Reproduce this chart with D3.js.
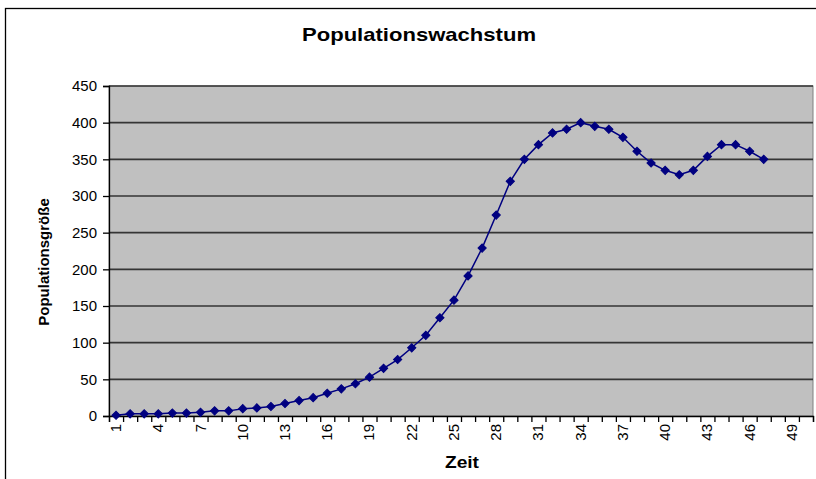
<!DOCTYPE html>
<html>
<head>
<meta charset="utf-8">
<script src="https://cdn.jsdelivr.net/npm/d3@7"></script>
<style>
  body { margin: 0; background: #fff; }
  text { font-family: Arial, "Liberation Sans", sans-serif; }
</style>
</head>
<body>
<svg id="chart" width="816" height="479"></svg>
<script>
// values
var population = [1, 3, 3, 3, 4, 4, 5, 7, 7, 10, 11, 13, 17, 21, 25, 31, 37, 44, 53, 65,
    77, 93, 110, 134, 158, 191, 229, 274, 320, 350, 370, 386, 391, 400, 395, 391, 380, 361, 345, 335,
    329, 335, 354, 370, 370, 361, 350];
var categoryCount = 50;
var xLabels = [1, 4, 7, 10, 13, 16, 19, 22, 25, 28, 31, 34, 37, 40, 43, 46, 49];
var yTicks = [0, 50, 100, 150, 200, 250, 300, 350, 400, 450];

drawChart();

function drawChart() {
    var svg = d3.select("#chart");

    // outer frame
    svg.append("rect")
        .attr("x", 5.5).attr("y", 8.5)
        .attr("width", 840).attr("height", 520)
        .attr("fill", "#fff")
        .attr("stroke", "#000")
        .attr("stroke-width", 1.3);

    var plotLeft = 109, plotRight = 813, plotTop = 86, plotBottom = 416;

    var x = d3.scaleLinear().domain([0.5, categoryCount + 0.5]).range([plotLeft, plotRight]);
    var y = d3.scaleLinear().domain([0, 450]).range([plotBottom, plotTop]);

    // plot area
    svg.append("rect")
        .attr("x", plotLeft).attr("y", plotTop)
        .attr("width", plotRight - plotLeft).attr("height", plotBottom - plotTop)
        .attr("fill", "#c0c0c0")
        .attr("stroke", "#808080")
        .attr("stroke-width", 1);

    // gridlines
    svg.append("g")
        .selectAll("line")
        .data(yTicks.slice(1))
        .enter()
        .append("line")
        .attr("x1", plotLeft).attr("x2", plotRight)
        .attr("y1", d => y(d)).attr("y2", d => y(d))
        .attr("stroke", "#353535")
        .attr("stroke-width", 1.7);

    // y axis
    var yAxis = svg.append("g")
        .attr("transform", "translate(" + plotLeft + ",0)")
        .call(d3.axisLeft(y).tickValues(yTicks).tickSize(6).tickPadding(6));
    yAxis.select(".domain").attr("stroke", "#000").attr("stroke-width", 1.3);
    yAxis.selectAll(".tick line").attr("stroke", "#000").attr("stroke-width", 1.3);
    yAxis.selectAll("text").attr("font-size", 15).attr("fill", "#000")
        .style("font-family", "Arial, 'Liberation Sans', sans-serif");

    // x axis: ticks between categories
    var xAxis = svg.append("g")
        .attr("transform", "translate(0," + plotBottom + ")")
        .call(d3.axisBottom(x)
            .tickValues(d3.range(0.5, categoryCount + 1, 1))
            .tickSize(6)
            .tickFormat(""));
    xAxis.select(".domain").attr("stroke", "#000").attr("stroke-width", 1.3);
    xAxis.selectAll(".tick line").attr("stroke", "#000").attr("stroke-width", 1.3);

    // rotated category labels
    svg.append("g")
        .selectAll("text")
        .data(xLabels)
        .enter()
        .append("text")
        .attr("transform", d => "translate(" + (x(d) + 5) + "," + (plotBottom + 8) + ") rotate(-90)")
        .attr("text-anchor", "end")
        .attr("font-size", 15)
        .text(d => d);

    // line + markers
    var line = d3.line()
        .x((d, i) => x(i + 1))
        .y(d => y(d));

    svg.append("path")
        .datum(population)
        .attr("d", line)
        .attr("fill", "none")
        .attr("stroke", "#000080")
        .attr("stroke-width", 1.5);

    var diamond = d3.symbol().type(d3.symbolSquare).size(34);
    svg.append("g")
        .selectAll("path")
        .data(population)
        .enter()
        .append("path")
        .attr("d", diamond)
        .attr("transform", (d, i) => "translate(" + x(i + 1) + "," + y(d) + ") rotate(45)")
        .attr("fill", "#000080")
        .attr("stroke", "#000080")
        .attr("stroke-width", 1);

    // titles (reference text is a bit stretched sideways)
    svg.append("text")
        .attr("x", 419).attr("y", 41)
        .attr("text-anchor", "middle")
        .attr("font-size", 19)
        .attr("font-weight", "bold")
        .attr("textLength", 234)
        .attr("lengthAdjust", "spacingAndGlyphs")
        .text("Populationswachstum");

    svg.append("text")
        .attr("transform", "translate(49,262) rotate(-90)")
        .attr("text-anchor", "middle")
        .attr("font-size", 15)
        .attr("font-weight", "bold")
        .text("Populationsgröße");

    svg.append("text")
        .attr("x", 462).attr("y", 468)
        .attr("text-anchor", "middle")
        .attr("font-size", 16)
        .attr("font-weight", "bold")
        .attr("textLength", 34)
        .attr("lengthAdjust", "spacingAndGlyphs")
        .text("Zeit");
}
</script>
</body>
</html>
